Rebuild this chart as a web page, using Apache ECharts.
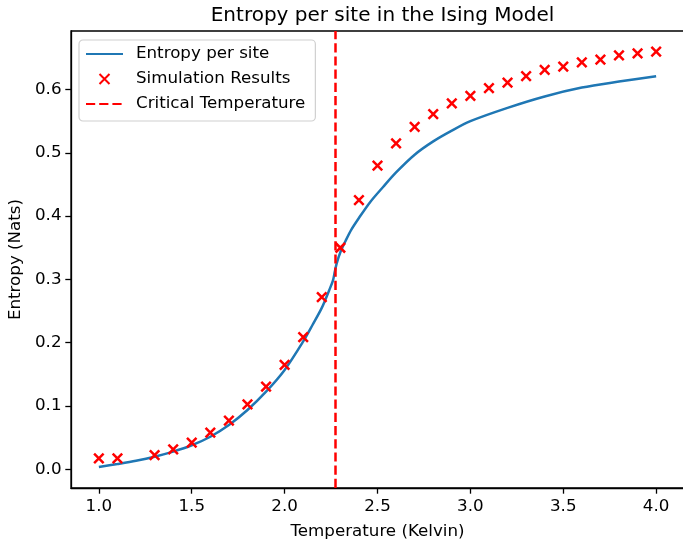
<!DOCTYPE html>
<html>
<head>
<meta charset="utf-8">
<script src="https://cdn.jsdelivr.net/npm/echarts@6/dist/echarts.min.js"></script>
<style>html,body{margin:0;padding:0;background:#fff}#c{width:683px;height:539px}</style>
</head>
<body>
<div id="c"></div>
<script>
// Curve: entropy per site
const lineT = [1.0,1.1,1.2,1.3,1.4,1.5,1.6,1.7,1.8,1.9,2.0,2.1,2.15,2.2,2.24,2.26,2.27,2.28,2.3,2.33,2.36,2.4,2.46,2.53,2.6,2.7,2.8,2.9,3.0,3.2,3.4,3.6,3.8,4.0];
const lineS = [0.0036,0.0084,0.0136,0.020,0.028,0.038,0.0515,0.070,0.0937,0.1226,0.157,0.202,0.228,0.255,0.283,0.298,0.312,0.325,0.343,0.362,0.379,0.397,0.422,0.446,0.469,0.497,0.518,0.535,0.550,0.571,0.589,0.603,0.6125,0.621];
// Simulation results
const simT = [1.0,1.1,1.3,1.4,1.5,1.6,1.7,1.8,1.9,2.0,2.1,2.2,2.3,2.4,2.5,2.6,2.7,2.8,2.9,3.0,3.1,3.2,3.3,3.4,3.5,3.6,3.7,3.8,3.9,4.0];
const simS = [0.0174,0.0174,0.0226,0.0316,0.042,0.0578,0.0768,0.1027,0.1305,0.165,0.209,0.272,0.350,0.4254,0.4797,0.515,0.541,0.561,0.578,0.590,0.602,0.611,0.621,0.631,0.636,0.643,0.647,0.654,0.657,0.660];
const Tc = 2.269;
const xTicks = [1.0,1.5,2.0,2.5,3.0,3.5,4.0];
const yTicks = [0.0,0.1,0.2,0.3,0.4,0.5,0.6];

const FONT = 'DejaVu Sans';
const FS = 16.7;
const xPath = 'path://M0,0L10,10M10,0L0,10';
const chart = echarts.init(document.getElementById('c'), null, {renderer:'canvas'});
chart.setOption({
  animation: false,
  backgroundColor: '#fff',
  textStyle: {fontFamily: FONT, color: '#000'},
  title: {
    text: 'Entropy per site in the Ising Model',
    left: 377.5, textAlign: 'center', top: 1,
    textStyle: {fontFamily: FONT, fontSize: 20, fontWeight: 'normal', color: '#000'}
  },
  grid: {left: 71, top: 31, width: 613, height: 457, show: true, borderColor: '#000', borderWidth: 1.3, containLabel: false, outerBoundsMode: 'none'},
  legend: {
    orient: 'vertical', left: 79, top: 40,
    padding: [5, 10, 8, 6],
    itemWidth: 37, itemHeight: 10, itemGap: 7,
    backgroundColor: '#fff', borderColor: '#d0d0d0', borderWidth: 1.2, borderRadius: 4,
    textStyle: {fontFamily: FONT, fontSize: FS, lineHeight: 18, color: '#000', padding: [0,0,0,8]},
    data: [
      {name: 'Entropy per site', itemStyle: {opacity: 0}},
      {name: 'Simulation Results', icon: xPath},
      {name: 'Critical Temperature', itemStyle: {opacity: 0}}
    ]
  },
  xAxis: {
    type: 'value', min: 0.85, max: 4.15,
    name: 'Temperature (Kelvin)', nameLocation: 'middle', nameGap: 35,
    nameTextStyle: {fontFamily: FONT, fontSize: FS, color: '#000'},
    axisLine: {show: true, onZero: false, lineStyle: {color: '#000', width: 1.3}},
    axisTick: {show: true, length: 5.7, lineStyle: {color: '#000', width: 1.3}, customValues: xTicks},
    axisLabel: {fontFamily: FONT, fontSize: FS, color: '#000', margin: 10.5, customValues: xTicks, formatter: v => v.toFixed(1)},
    splitLine: {show: false}
  },
  yAxis: {
    type: 'value', min: -0.0295, max: 0.6924,
    name: 'Entropy (Nats)', nameLocation: 'middle', nameGap: 46,
    nameTextStyle: {fontFamily: FONT, fontSize: FS, color: '#000'},
    axisLine: {show: true, onZero: false, lineStyle: {color: '#000', width: 1.3}},
    axisTick: {show: true, length: 5.7, lineStyle: {color: '#000', width: 1.3}, customValues: yTicks},
    axisLabel: {fontFamily: FONT, fontSize: FS, color: '#000', margin: 9.5, customValues: yTicks, formatter: v => v.toFixed(1)},
    splitLine: {show: false}
  },
  series: [
    {
      name: 'Entropy per site', type: 'line',
      data: lineT.map((t, i) => [t, lineS[i]]),
      showSymbol: false, symbol: 'none', smooth: 0.3,
      lineStyle: {color: '#1f77b4', width: 2.5},
      itemStyle: {color: '#1f77b4'}, z: 2
    },
    {
      name: 'Simulation Results', type: 'scatter',
      data: simT.map((t, i) => [t, simS[i]]),
      symbol: xPath, symbolSize: 9.5,
      itemStyle: {color: '#ff0000', borderColor: '#ff0000', borderWidth: 2.5, opacity: 1},
      z: 3
    },
    {
      name: 'Critical Temperature', type: 'line', data: [],
      symbol: 'none',
      lineStyle: {color: '#ff0000', width: 2.5, type: [9.2, 4]},
      itemStyle: {color: '#ff0000'},
      markLine: {
        symbol: 'none', silent: true, animation: false,
        label: {show: false},
        lineStyle: {color: '#ff0000', width: 2.5, type: [9.2, 4]},
        data: [{xAxis: Tc}]
      },
      z: 4
    }
  ]
});
</script>
</body>
</html>
